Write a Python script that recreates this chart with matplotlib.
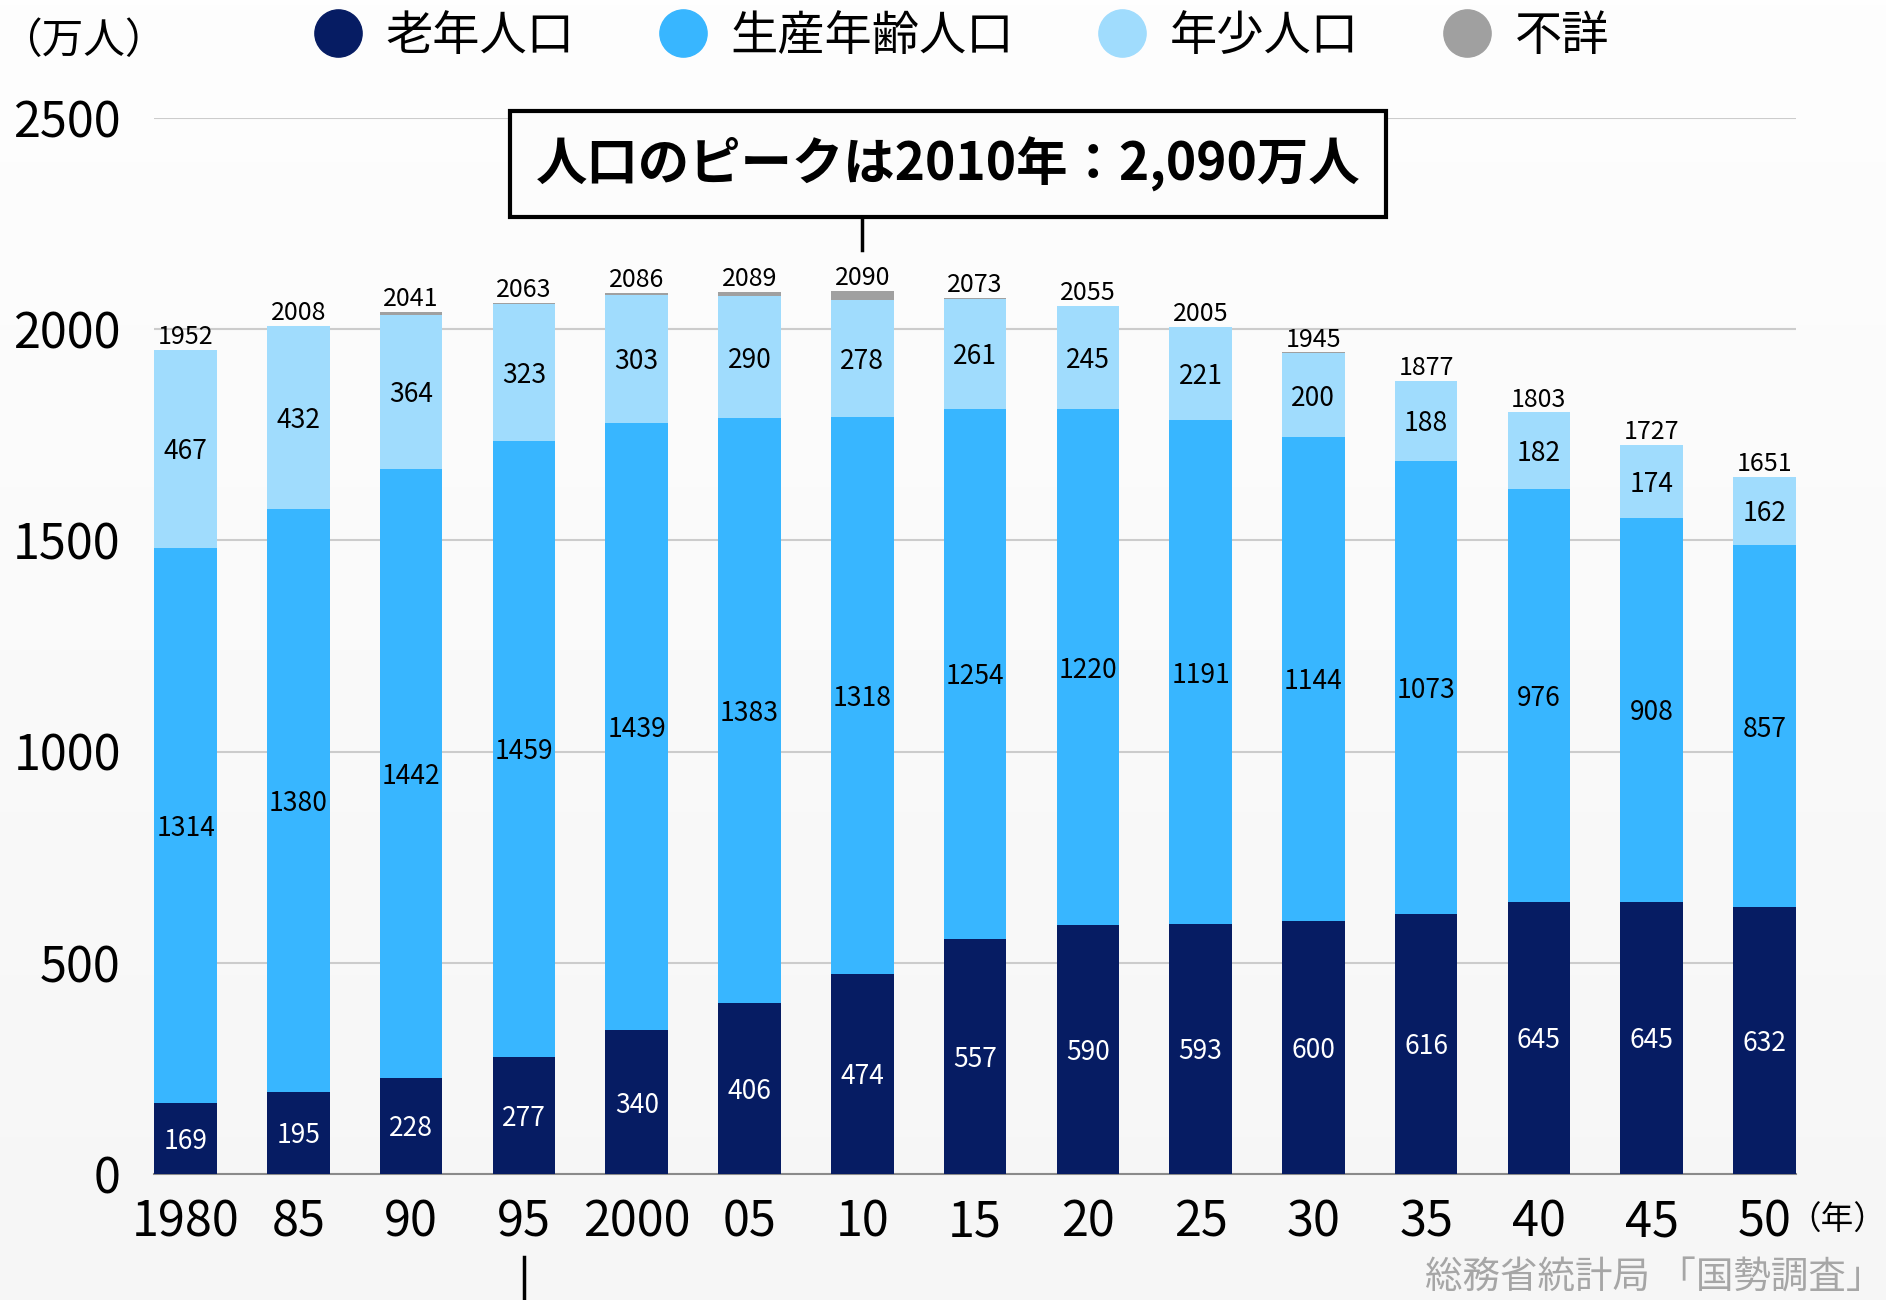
import numpy as np
import matplotlib
matplotlib.use("Agg")
from matplotlib import pyplot as plt
from matplotlib.lines import Line2D
from matplotlib.colors import LinearSegmentedColormap

plt.rcParams["font.family"] = ["Noto Sans CJK JP", "DejaVu Sans"]

# データ（万人）
years = ["1980", "85", "90", "95", "2000", "05", "10", "15", "20", "25", "30", "35", "40", "45", "50"]
elderly = [169, 195, 228, 277, 340, 406, 474, 557, 590, 593, 600, 616, 645, 645, 632]
working = [1314, 1380, 1442, 1459, 1439, 1383, 1318, 1254, 1220, 1191, 1144, 1073, 976, 908, 857]
young = [467, 432, 364, 323, 303, 290, 278, 261, 245, 221, 200, 188, 182, 174, 162]
unknown = [2, 1, 7, 4, 4, 10, 20, 1, 0, 0, 1, 0, 0, 0, 0]
totals = [1952, 2008, 2041, 2063, 2086, 2089, 2090, 2073, 2055, 2005, 1945, 1877, 1803, 1727, 1651]

series_names = ["老年人口", "生産年齢人口", "年少人口", "不詳"]
colors = ["#061c63", "#38b6ff", "#a0dcfd", "#a0a0a0"]
label_colors = ["white", "black", "black"]

fig = plt.figure(figsize=(18.86, 13), dpi=100)

# 背景のグラデーション
bg = fig.add_axes([0, 0, 1, 1], zorder=-10)
grad = np.linspace(1, 0, 256).reshape(-1, 1)
bg.imshow(grad, aspect="auto", extent=[0, 1, 0, 1],
          cmap=LinearSegmentedColormap.from_list("bg", ["#f6f6f6", "#fefefe"]))
bg.axis("off")

ax = fig.add_axes([0.0817, 0.0969, 0.8706, 0.8123])
ax.set_facecolor("none")

x = np.arange(len(years))
width = 0.555
bottom = np.zeros(len(years))
for i, (vals, c) in enumerate(zip([elderly, working, young, unknown], colors)):
    ax.bar(x, vals, width, bottom=bottom, color=c, zorder=3)
    if i < 3:
        for xi, b, v in zip(x, bottom, vals):
            ax.text(xi, b + v / 2, str(v), ha="center", va="center_baseline",
                    fontsize=19, color=label_colors[i], zorder=4)
    bottom += np.array(vals)

for xi, t in zip(x, totals):
    ax.text(xi, t + 14, str(t), ha="center", va="baseline", fontsize=18, zorder=4)

ax.set_xlim(-0.28, len(years) - 1 + 0.28)
ax.set_ylim(0, 2500)
ax.set_yticks([0, 500, 1000, 1500, 2000, 2500])
ax.set_xticks(x)
ax.set_xticklabels(years)
ax.tick_params(axis="y", length=0, labelsize=35, pad=24)
ax.tick_params(axis="x", length=0, labelsize=35, pad=17)
ax.yaxis.grid(True, color="#cccccc", lw=1.5)
ax.set_axisbelow(True)
for s in ["top", "right", "left"]:
    ax.spines[s].set_visible(False)
ax.spines["bottom"].set_color("#8a8a8a")
ax.spines["bottom"].set_linewidth(1.5)

# ピーク注記
peak = int(np.argmax(totals))
ax.plot([peak, peak], [totals[peak] + 97, totals[peak] + 175], color="black", lw=2.5, clip_on=False)
fig.text(0.5027, 0.8738, "人口のピークは2010年：2,090万人", ha="center", va="center",
         fontsize=37, fontweight="bold",
         bbox=dict(boxstyle="square,pad=0.5", fc="#fcfcfc", ec="black", lw=3))
ax.plot([3, 3], [-196, -300], color="black", lw=2.5, clip_on=False)

# 凡例
handles = [Line2D([], [], marker="o", linestyle="none", markersize=34,
                  markerfacecolor=c, markeredgecolor=c) for c in colors]
fig.legend(handles, series_names, ncol=4, loc="center", bbox_to_anchor=(0.51, 0.972),
           frameon=False, fontsize=34, handlelength=1.0, handletextpad=0.5, columnspacing=1.8)

fig.text(0.0, 0.968, "（万人）", ha="left", va="center", fontsize=30)
fig.text(0.948, 0.0608, "（年）", ha="left", va="center", fontsize=23.5)
fig.text(0.7556, 0.0177, "総務省統計局 「国勢調査」", ha="left", va="center",
         fontsize=27, color="#a6a6a6")

fig.savefig("out.png", dpi=100)
